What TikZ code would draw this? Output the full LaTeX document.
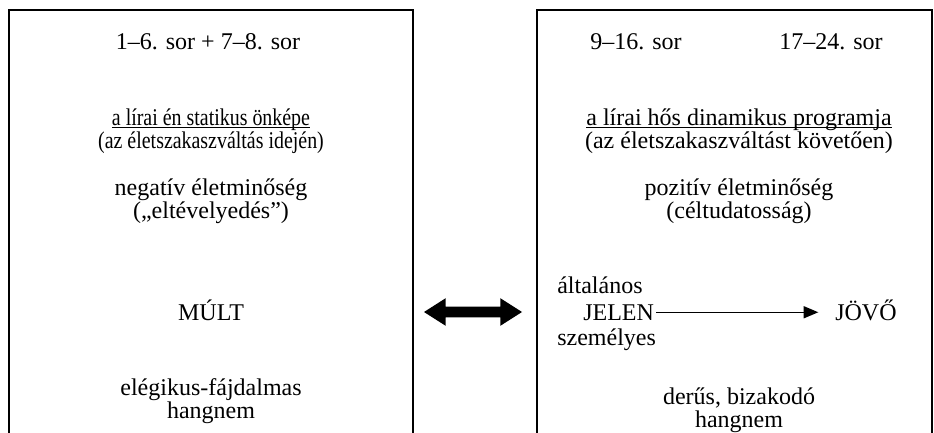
\documentclass[tikz,border=0pt]{standalone}
\usepackage{fontspec}
\setmainfont{Liberation Serif}
\newfontfamily\narrowserif{Liberation Serif}[FakeStretch=0.83]
\usetikzlibrary{arrows.meta,positioning,shapes.arrows}
\newcommand{\wordline}[1]{\setbox0=\hbox{#1}\rlap{\rule[-2.2pt]{\wd0}{0.75pt}}\box0}
\tikzset{
  panel/.style={draw,line width=1.5pt},
  txt/.style={font=\fontsize{18}{17.25}\selectfont,align=center,inner sep=0pt,anchor=base},
  narrowtxt/.style={txt,font=\fontsize{18}{17.25}\selectfont\narrowserif},
  ltxt/.style={txt,align=left,anchor=base west},
  swap/.style={double arrow,fill=black,inner xsep=0pt,inner ysep=3.75pt,
    minimum height=73.5pt,double arrow head extend=6.4pt,double arrow tip angle=65}
}
\begin{document}
\begin{tikzpicture}[x=0.75pt,y=-0.75pt,>={Triangle[length=11pt,width=9pt]}]
  \useasboundingbox (0,0) rectangle (934,432);
  \clip (0,0) rectangle (934,432);
  % the two panels, open at the bottom
  \draw[panel] (9,10) rectangle (413,460);
  \draw[panel] (537,10) rectangle (932,460);

  % left panel
  \node[txt] (lrows) at (208,49) {1–6. sor + 7–8. sor};
  \node[narrowtxt] (lself) at (211,148) {\wordline{a lírai én statikus önképe}\\(az életszakaszváltás idején)};
  \node[txt] (lquality) at (211,218) {negatív életminőség\\(„eltévelyedés”)};
  \node[txt] (past) at (211,320) {MÚLT};
  \node[txt] (ltone) at (211,418) {elégikus-fájdalmas\\hangnem};

  \node[swap] (link) at (473,312) {};

  % right panel
  \node[txt] (rrowsa) at (636,49) {9–16. sor};
  \node[txt] (rrowsb) at (831,49) {17–24. sor};
  \node[txt] (rself) at (739,148) {\wordline{a lírai hős dinamikus programja}\\(az életszakaszváltást követően)};
  \node[txt] (rquality) at (739,218) {pozitív életminőség\\(céltudatosság)};
  \node[ltxt] (present) at (583,320) {JELEN};
  \node[ltxt,above=20.25pt of present.base west,anchor=base west,xshift=-19.5pt] (general) {általános};
  \node[ltxt,below=18.75pt of present.base west,anchor=base west,xshift=-19.5pt] (personal) {személyes};
  \node[ltxt] (future) at (835,320) {JÖVŐ};
  \draw[->,line width=1.1pt,shorten <=1.5pt,shorten >=12.5pt] (present.east) -- (present.east -| future.west);
  \node[txt] (rtone) at (739,427) {derűs, bizakodó\\hangnem};
\end{tikzpicture}
\end{document}
